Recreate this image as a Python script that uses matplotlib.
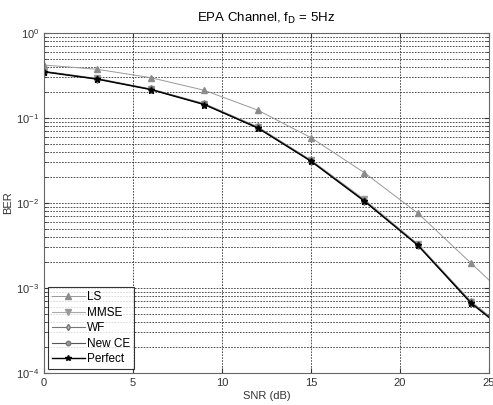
import matplotlib
matplotlib.use("Agg")
import matplotlib.pyplot as plt
import numpy as np
from matplotlib.ticker import LogLocator, NullFormatter, FixedLocator

plt.rcParams['font.family'] = ['Liberation Sans', 'DejaVu Sans']

snr = [0, 3, 6, 9, 12, 15, 18, 21, 24, 25]
ber_ls = [0.42, 0.374, 0.298, 0.212, 0.124, 0.0587, 0.0227, 0.0076, 0.00195, 0.00124]
ber_mmse = [0.355, 0.292, 0.22, 0.148, 0.079, 0.032, 0.0110, 0.0033, 0.00069, 0.00047]
ber_wf = [0.352, 0.289, 0.218, 0.146, 0.0775, 0.0315, 0.0107, 0.00322, 0.00068, 0.00046]
ber_new = [0.351, 0.288, 0.217, 0.145, 0.077, 0.0312, 0.0106, 0.0032, 0.00067, 0.00046]
ber_perfect = [0.349, 0.286, 0.216, 0.144, 0.0765, 0.031, 0.0105, 0.00318, 0.00066, 0.00045]

fig = plt.figure(figsize=(4.93, 4.05), dpi=100)
ax = fig.add_axes([44/493, 1 - 373/405, (489-44)/493, (373-33)/405])

mk_idx = list(range(9))
ax.semilogy(snr, ber_ls, color='#999999', lw=0.7, marker='^', ms=5, mfc='#8c8c8c', mec='#8c8c8c', markevery=mk_idx, label='LS')
ax.semilogy(snr, ber_mmse, color='#aaaaaa', lw=0.8, marker='v', ms=5, mfc='#9a9a9a', mec='#9a9a9a', markevery=mk_idx, label='MMSE')
ax.semilogy(snr, ber_wf, color='#777777', lw=0.8, marker='d', ms=4, mfc='#bbbbbb', mec='#777777', markevery=mk_idx, label='WF')
ax.semilogy(snr, ber_new, color='#555555', lw=0.8, marker='o', ms=4, mfc='#999999', mec='#777777', markevery=mk_idx, label='New CE')
ax.semilogy(snr, ber_perfect, color='black', lw=1.0, marker='*', ms=5, mfc='black', mec='black', markevery=mk_idx, label='Perfect')

ax.set_xlim(0, 25)
ax.set_ylim(1e-4, 1)
ax.xaxis.set_major_locator(FixedLocator([0, 5, 10, 15, 20, 25]))
ax.yaxis.set_major_locator(LogLocator(base=10, numticks=10))
ax.yaxis.set_minor_locator(LogLocator(base=10, subs=np.arange(2, 10), numticks=20))
ax.yaxis.set_minor_formatter(NullFormatter())
ax.grid(True, which='major', linestyle=(0, (2, 1.5)), color='#333333', lw=0.6)
ax.grid(True, which='minor', axis='y', linestyle=(0, (2, 1.5)), color='#333333', lw=0.6)
ax.tick_params(which='both', direction='in', labelsize=8, top=True, right=True, colors='#333333')
for s in ax.spines.values():
    s.set_color('#666666')

ax.set_xlabel('SNR (dB)', fontsize=8, labelpad=2, color='#333333')
ax.set_ylabel('BER', fontsize=8, labelpad=2, color='#333333')
ax.set_title(r'EPA Channel, f$_\mathrm{D}$ = 5Hz', fontsize=9.5, pad=8)

leg = ax.legend(loc='lower left', fontsize=8.5, frameon=True, fancybox=False, edgecolor='black',
                borderaxespad=0.3, handlelength=2.8, labelspacing=0.3, handletextpad=0.2, borderpad=0.35,
                markerscale=0.8)
leg.get_frame().set_linewidth(0.8)

fig.savefig('out.png', dpi=100)
